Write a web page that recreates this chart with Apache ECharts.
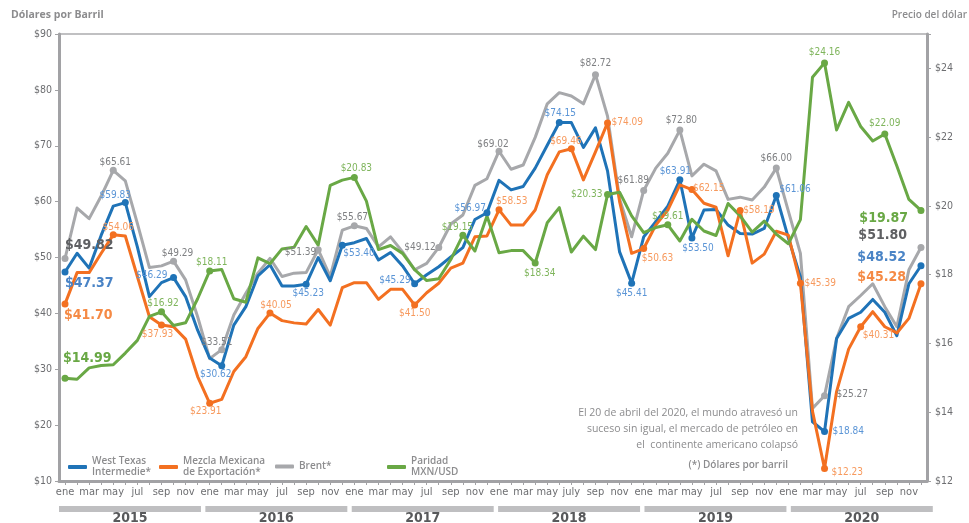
<!DOCTYPE html>
<html><head><meta charset="utf-8">
<script src="https://cdn.jsdelivr.net/npm/echarts/dist/echarts.min.js"></script>
<style>html,body{margin:0;padding:0;background:#fff}#c{width:969px;height:523px}</style>
</head><body><div id="c"></div>
<script>
// ---------- DATA ----------
const years = ['2015', '2016', '2017', '2018', '2019', '2020'];
const months = ['ene', 'feb', 'mar', 'abr', 'may', 'jun', 'jul', 'ago', 'sep', 'oct', 'nov', 'dic'];
const monthTicks = ['ene', '', 'mar', '', 'may', '', 'jul', '', 'sep', '', 'nov', ''];
const monthTicks2018 = ['ene', '', 'mar', '', 'may', '', 'july', '', 'sep', '', 'nov', ''];
const leftTicks = [10, 20, 30, 40, 50, 60, 70, 80, 90];
const rightTicks = [12, 14, 16, 18, 20, 22, 24];

const wti = [
  47.4, 50.75, 48.1, 54.0, 59.2, 59.83, 51.9, 43.0, 45.5, 46.4, 43.0, 37.0,
  32.0, 30.62, 37.9, 41.2, 46.7, 48.7, 44.9, 44.9, 45.23, 50.0, 45.85, 52.2,
  52.65, 53.4, 49.55, 50.9, 48.5, 45.3, 46.9, 48.35, 50.1, 51.76, 56.8, 58.0,
  63.8, 62.1, 62.7, 66.0, 70.1, 74.15, 74.15, 69.7, 73.2, 65.5, 51.0, 45.41,
  53.7, 56.4, 59.2, 63.91, 53.5, 58.5, 58.6, 55.8, 54.3, 54.2, 55.2, 61.1,
  53.5, 46.5, 20.6, 18.84, 35.5, 39.1, 40.2, 42.5, 40.2, 36.0, 45.3, 48.52
];
const mezcla = [
  41.7, 47.3, 47.3, 50.75, 54.06, 53.85, 46.6, 39.4, 37.93, 37.6, 35.4, 28.7,
  23.91, 24.6, 29.6, 32.25, 37.3, 40.05, 38.7, 38.3, 38.1, 40.7, 37.9, 44.6,
  45.5, 45.5, 42.5, 44.3, 44.3, 41.5, 43.7, 45.4, 48.1, 49.0, 53.7, 53.85,
  58.53, 55.8, 55.8, 58.5, 64.8, 68.9, 69.46, 63.9, 68.9, 74.09, 60.0, 50.75,
  51.6, 55.8, 58.5, 63.0, 62.15, 59.7, 59.0, 50.3, 58.4, 49.0, 50.6, 54.7,
  54.0, 45.39, 22.5, 12.23, 26.0, 33.6, 37.6, 40.3, 37.6, 36.5, 39.1, 45.28
];
const brent = [
  49.82, 58.85, 56.95, 61.0, 65.61, 63.7, 56.1, 48.2, 48.5, 49.35, 46.0, 39.4,
  31.9, 33.51, 39.7, 43.6, 47.2, 49.85, 46.6, 47.2, 47.3, 51.39, 46.6, 54.9,
  55.67, 55.2, 51.9, 53.7, 51.0, 47.8, 48.96, 51.8, 56.0, 57.6, 62.9, 64.1,
  69.02, 65.8, 66.55, 71.5, 77.5, 79.5, 78.9, 77.5, 82.72, 75.3, 60.5, 53.7,
  62.0, 66.0, 68.65, 72.8, 64.6, 66.7, 65.5, 60.4, 60.8, 60.3, 62.6, 66.0,
  58.3, 50.75, 23.0, 25.27, 35.5, 41.2, 43.2, 45.3, 41.2, 37.6, 47.8, 51.8
];
const paridad = [
  14.99, 14.96, 15.29, 15.36, 15.38, 15.72, 16.09, 16.79, 16.92, 16.52, 16.6, 17.3,
  18.11, 18.15, 17.3, 17.2, 18.49, 18.32, 18.75, 18.8, 19.4, 18.86, 20.6, 20.75,
  20.83, 20.14, 18.73, 18.85, 18.62, 18.15, 17.83, 17.88, 18.44, 19.15, 18.69, 19.71,
  18.64, 18.7, 18.7, 18.34, 19.51, 19.95, 18.66, 19.12, 18.73, 20.33, 20.4, 19.71,
  19.22, 19.37, 19.45, 18.98, 19.61, 19.27, 19.14, 20.07, 19.71, 19.24, 19.56, 19.18,
  18.9, 19.6, 23.74, 24.16, 22.21, 23.01, 22.31, 21.89, 22.09, 21.16, 20.19, 19.87
];

const wtiLabels = [[0,'$47.37'],[5,'$59.83'],[9,'$46.29'],[13,'$30.62'],[20,'$45.23'],[23,'$53.40'],[29,'$45.29'],[35,'$56.97'],[41,'$74.15'],[47,'$45.41'],[51,'$63.91'],[52,'$53.50'],[59,'$61.06'],[63,'$18.84'],[71,'$48.52']];
const mezclaLabels = [[0,'$41.70'],[4,'$54.06'],[8,'$37.93'],[12,'$23.91'],[17,'$40.05'],[29,'$41.50'],[36,'$58.53'],[42,'$69.46'],[45,'$74.09'],[48,'$50.63'],[52,'$62.15'],[56,'$58.19'],[61,'$45.39'],[63,'$12.23'],[66,'$40.31'],[71,'$45.28']];
const brentLabels = [[0,'$49.82'],[4,'$65.61'],[9,'$49.29'],[13,'$33.51'],[21,'$51.39'],[24,'$55.67'],[31,'$49.12'],[36,'$69.02'],[44,'$82.72'],[48,'$61.89'],[51,'$72.80'],[59,'$66.00'],[63,'$25.27'],[71,'$51.80']];
const paridadLabels = [[0,'$14.99'],[8,'$16.92'],[12,'$18.11'],[24,'$20.83'],[33,'$19.15'],[39,'$18.34'],[45,'$20.33'],[50,'$19.61'],[63,'$24.16'],[68,'$22.09'],[71,'$19.87']];

const seriesNames = ['West Texas\nIntermedie*', 'Mezcla Mexicana\nde Exportación*', 'Brent*', 'Paridad\nMXN/USD'];
const noteText = 'El 20 de abril del 2020, el mundo atravesó un\nsuceso sin igual, el mercado de petróleo en\nel  continente americano colapsó';
const footText = '(*) Dólares por barril';
const leftTitle = 'Dólares por Barril';
const rightTitle = 'Precio del dólar';

// ---------- STYLE / LAYOUT ----------
const NARROW = '"Liberation Sans Narrow","DejaVu Sans Condensed","Arial Narrow",sans-serif';
const SANS = '"Open Sans","Noto Sans",sans-serif';
const AXIS_COLOR = '#a2a2a5';
const TICK_TEXT = '#6d6e71';

// label placement: [dx, dy, align] relative to the point
const wtiLayout = {0:[0,11,'l'],5:[-10,-7.5,'c'],9:[-6,-2,'r'],13:[-6,9,'c'],20:[2,9,'c'],23:[1,8,'l'],29:[-4,-3,'r'],35:[-1,-4,'r'],41:[1,-9.5,'c'],47:[0,10,'c'],51:[-4.5,-8,'c'],52:[6,10,'c'],59:[3,-6,'l'],63:[8,0,'l'],71:[-15,-8,'r']};
const mezclaLayout = {0:[-1,11,'l'],4:[5,-7,'c'],8:[-4,9,'c'],12:[-4,8,'c'],17:[6,-8,'c'],29:[0,8,'c'],36:[-3,-8,'l'],42:[-5.5,-7,'c'],45:[4,0,'l'],48:[-2,10,'l'],52:[1,-1,'l'],56:[3,0,'l'],61:[4,0,'l'],63:[7,4,'l'],66:[2,9,'l'],71:[-15,-7,'r']};
const brentLayout = {0:[0,-13,'l'],4:[2,-8,'c'],9:[4,-8,'c'],13:[-5,-7,'c'],21:[-2,3,'r'],24:[-2,-8.5,'c'],31:[-3,0,'r'],36:[-6,-7,'c'],44:[0,-11,'c'],48:[-10.5,-10,'c'],51:[1.5,-10,'c'],59:[0,-10,'c'],63:[12,-1,'l'],71:[-14,-12,'r']};
const paridadLayout = {0:[-2,-20,'l'],8:[1.5,-8,'c'],12:[2,-8.5,'c'],24:[2,-8.5,'c'],33:[-5.5,-7.5,'c'],39:[4.5,10,'c'],45:[-5,0,'r'],50:[0,-8.5,'c'],63:[0,-10.5,'c'],68:[0,-10.5,'c'],71:[-13,8,'r']};

const categories = [];
const tickText = [];
years.forEach(function (y) {
  months.forEach(function (m, i) {
    categories.push(m + ' ' + y);
    tickText.push((y === '2018' ? monthTicks2018 : monthTicks)[i]);
  });
});

// markers + value labels as a scatter layer drawn above every line
function markerSeries(values, labels, layout, color, smallColor, bigColor, yAxisIndex) {
  const alignMap = {l: 'left', c: 'center', r: 'right'};
  const last = values.length - 1;
  const data = labels.map(function (pair) {
    const i = pair[0];
    const lay = layout[i];
    const big = (i === 0 || i === last);
    return {
      value: [i, values[i]],
      label: {
        show: true, position: 'inside', offset: [lay[0], lay[1]],
        align: alignMap[lay[2]], verticalAlign: 'middle',
        formatter: pair[1],
        color: big ? bigColor : smallColor,
        fontSize: big ? 14 : 10,
        fontWeight: big ? 'bold' : 'normal',
        fontFamily: NARROW,
        textBorderWidth: 0
      }
    };
  });
  return {
    type: 'scatter', name: 'pts', data: data, yAxisIndex: yAxisIndex,
    symbol: 'circle', symbolSize: 7, z: 10,
    itemStyle: {color: color, borderWidth: 0, opacity: 1},
    emphasis: {disabled: true}, animation: false, silent: true
  };
}

function lineSeries(name, values, color, yAxisIndex, z) {
  return {
    type: 'line', name: name, data: values, yAxisIndex: yAxisIndex, color: color,
    symbol: 'none', showSymbol: false, z: z,
    lineStyle: {width: 3, color: color, join: 'round'},
    itemStyle: {color: color},
    emphasis: {disabled: true}, animation: false
  };
}

const C_WTI = '#1f73b7', C_MEZ = '#f37021', C_BRE = '#a7a8ab', C_PAR = '#69a845';

const legendBase = {
  orient: 'horizontal', icon: 'roundRect', itemWidth: 19, itemHeight: 4,
  selectedMode: false, padding: 0, itemGap: 0,
  textStyle: {color: '#8c8c8e', fontSize: 10, fontWeight: 600, fontFamily: SANS, lineHeight: 11}
};

const chart = echarts.init(document.getElementById('c'));
chart.setOption({
  animation: false,
  backgroundColor: '#ffffff',
  textStyle: {fontFamily: NARROW},
  grid: {left: 59, right: 42, top: 34, bottom: 42, show: true, borderColor: '#acacaf', borderWidth: 1.5, backgroundColor: 'transparent', containLabel: false, outerBoundsMode: 'none'},
  legend: [
    Object.assign({}, legendBase, {data: [seriesNames[0]], left: 68, top: 456}),
    Object.assign({}, legendBase, {data: [seriesNames[1]], left: 159, top: 456}),
    Object.assign({}, legendBase, {data: [seriesNames[2]], left: 275, top: 461}),
    Object.assign({}, legendBase, {data: [seriesNames[3]], left: 387, top: 456})
  ],
  xAxis: {
    type: 'category', data: categories, boundaryGap: true,
    axisLine: {show: true, lineStyle: {color: AXIS_COLOR, width: 3}},
    axisTick: {show: true, alignWithLabel: true, interval: 0, length: 4, lineStyle: {color: AXIS_COLOR, width: 1}},
    axisLabel: {interval: 0, margin: 6, color: TICK_TEXT, fontSize: 11, fontFamily: NARROW,
      formatter: function (v, i) { return tickText[i]; }},
    splitLine: {show: false}
  },
  yAxis: [
    {type: 'value', min: leftTicks[0], max: leftTicks[leftTicks.length - 1], interval: 10, position: 'left',
      axisLine: {show: true, lineStyle: {color: AXIS_COLOR, width: 3}},
      axisTick: {show: true, length: 4, lineStyle: {color: AXIS_COLOR}},
      axisLabel: {margin: 7, color: TICK_TEXT, fontSize: 10.5, fontFamily: NARROW, formatter: function (v) { return '$' + v; }},
      splitLine: {show: false}},
    {type: 'value', min: rightTicks[0], max: 25, interval: 2, position: 'right',
      axisLine: {show: true, lineStyle: {color: AXIS_COLOR, width: 3}},
      axisTick: {show: true, length: 4, lineStyle: {color: AXIS_COLOR}},
      axisLabel: {margin: 8, color: TICK_TEXT, fontSize: 10.5, fontFamily: NARROW,
        formatter: function (v) { return rightTicks.indexOf(v) >= 0 ? '$' + v : ''; }},
      splitLine: {show: false}}
  ],
  series: [
    lineSeries(seriesNames[2], brent, C_BRE, 0, 2),
    lineSeries(seriesNames[0], wti, C_WTI, 0, 3),
    lineSeries(seriesNames[1], mezcla, C_MEZ, 0, 4),
    lineSeries(seriesNames[3], paridad, C_PAR, 1, 5),
    markerSeries(brent, brentLabels, brentLayout, C_BRE, '#7f8083', '#5f6063', 0),
    markerSeries(wti, wtiLabels, wtiLayout, C_WTI, '#5b95d6', '#4a84c6', 0),
    markerSeries(mezcla, mezclaLabels, mezclaLayout, C_MEZ, '#f79a5e', '#f58a45', 0),
    markerSeries(paridad, paridadLabels, paridadLayout, C_PAR, '#7fb55c', '#69a845', 1)
  ]
});

// decorations: year bars below the axis, titles, notes
const p0 = chart.convertToPixel({xAxisIndex: 0}, 0);
const p1 = chart.convertToPixel({xAxisIndex: 0}, 1);
const band = p1 - p0;
const gridLeft = p0 - band / 2;
const period = 12 * band + 1.7;
const graphics = [
  {type: 'text', left: 11, top: 10, style: {text: leftTitle, font: 'bold 10.5px ' + SANS, fill: '#8c8c8e'}},
  {type: 'text', right: 2, top: 10, style: {text: rightTitle, font: '600 10px ' + SANS, fill: '#8c8c8e'}},
  {type: 'text', right: 969 - 798, top: 405, style: {text: noteText, font: '10.5px ' + SANS, fill: '#8c8c8e', textAlign: 'right', lineHeight: 16}},
  {type: 'text', right: 969 - 788, top: 460, style: {text: footText, font: '600 10px ' + SANS, fill: '#8c8c8e', textAlign: 'right'}}
];
years.forEach(function (y, k) {
  const x0 = gridLeft + k * period;
  const w = 12 * band - 2.7;
  graphics.push({type: 'rect', shape: {x: x0, y: 506, width: w, height: 6}, style: {fill: '#bfbfc1'}, silent: true});
  graphics.push({type: 'text', x: x0 + w / 2, y: 511, style: {text: y, font: 'bold 14px ' + NARROW, fill: '#58595b', textAlign: 'center', textVerticalAlign: 'top'}, silent: true});
});
chart.setOption({graphic: graphics});
</script>
</body></html>
